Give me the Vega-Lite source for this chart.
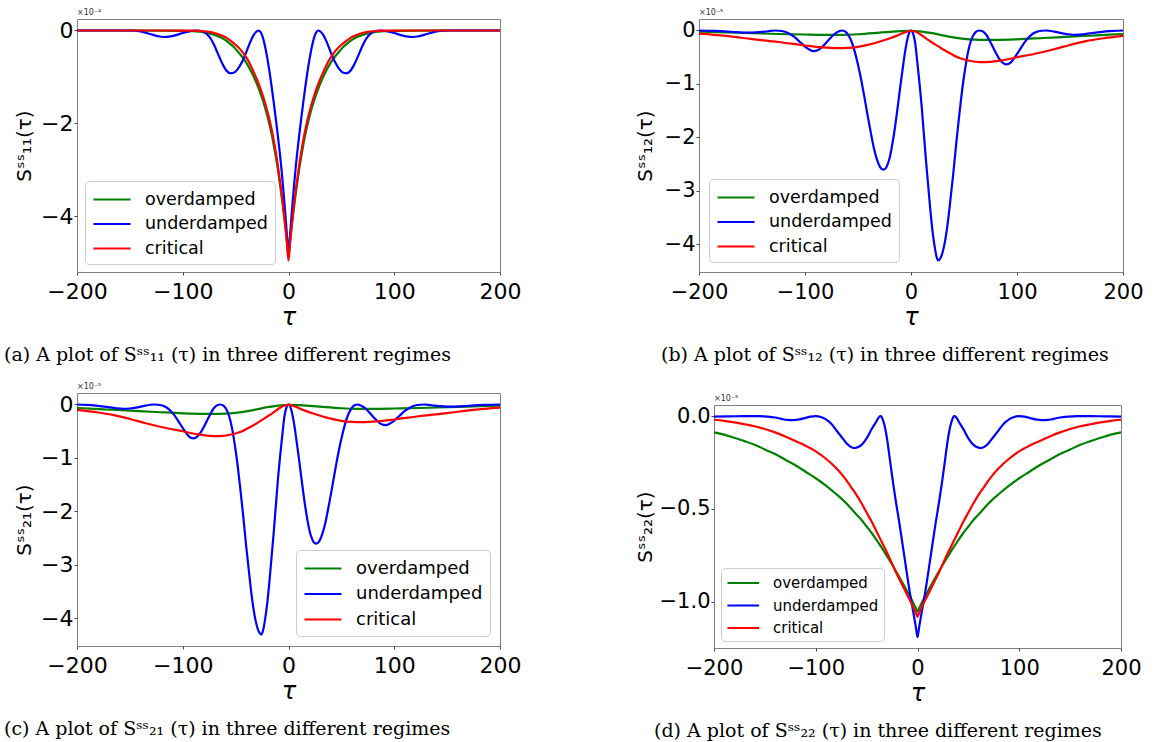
{
  "$schema": "https://vega.github.io/schema/vega-lite/v6.json",
  "background": "white",
  "padding": {"left": 3, "top": 8, "right": 5, "bottom": 2},
  "columns": 2,
  "align": "none",
  "spacing": {"row": 16, "column": 112},
  "resolve": {"scale": {"color": "independent"}, "legend": {"color": "independent"}},
  "config": {
    "font": "DejaVu Sans",
    "view": {"stroke": "#808080", "strokeWidth": 1},
    "axis": {"grid": false, "domain": false, "tickColor": "#444", "tickSize": 3, "labelFont": "DejaVu Sans", "labelFontSize": 22, "labelColor": "#000", "labelFlush": false, "labelOverlap": false, "labelBound": false, "titleFont": "DejaVu Sans", "titleFontWeight": "normal", "titleColor": "#000"},
    "axisX": {"labelPadding": 6, "titlePadding": 3, "titleFontSize": 24, "titleFontStyle": "italic"},
    "axisY": {"labelPadding": 1, "titlePadding": 6, "titleFontSize": 20},
    "legend": {"fillColor": "white", "strokeColor": "#cccccc", "cornerRadius": 4, "labelFont": "DejaVu Sans", "labelColor": "#000", "symbolType": "M-1,0H2.7", "symbolStrokeWidth": 2.2, "rowPadding": 4.5},
    "title": {"orient": "bottom", "anchor": "start", "frame": "group", "font": "DejaVu Serif", "fontSize": 19, "fontWeight": "normal", "color": "#000", "offset": 17},
    "line": {"strokeWidth": 2.2, "interpolate": "monotone"}
  },
  "datasets": {
    "a": [
      {"t":-200,"s":"overdamped","v":0},{"t":-160,"s":"overdamped","v":0},{"t":-120,"s":"overdamped","v":-0.001},{"t":-100,"s":"overdamped","v":-0.006},{"t":-90,"s":"overdamped","v":-0.015},{"t":-85,"s":"overdamped","v":-0.025},{"t":-80,"s":"overdamped","v":-0.04},{"t":-75,"s":"overdamped","v":-0.063},{"t":-70,"s":"overdamped","v":-0.095},{"t":-65,"s":"overdamped","v":-0.14},{"t":-60,"s":"overdamped","v":-0.2},{"t":-56,"s":"overdamped","v":-0.27},{"t":-52,"s":"overdamped","v":-0.35},{"t":-48,"s":"overdamped","v":-0.45},{"t":-44,"s":"overdamped","v":-0.56},{"t":-40,"s":"overdamped","v":-0.69},{"t":-36,"s":"overdamped","v":-0.85},{"t":-32,"s":"overdamped","v":-1.04},{"t":-28,"s":"overdamped","v":-1.26},{"t":-24,"s":"overdamped","v":-1.52},{"t":-20,"s":"overdamped","v":-1.84},{"t":-17,"s":"overdamped","v":-2.12},{"t":-14,"s":"overdamped","v":-2.46},{"t":-12,"s":"overdamped","v":-2.72},{"t":-10,"s":"overdamped","v":-3.0},{"t":-8,"s":"overdamped","v":-3.32},{"t":-6,"s":"overdamped","v":-3.65},{"t":-4,"s":"overdamped","v":-4.02},{"t":-2,"s":"overdamped","v":-4.42},{"t":-1,"s":"overdamped","v":-4.65},{"t":0,"s":"overdamped","v":-4.88},{"t":1,"s":"overdamped","v":-4.65},{"t":2,"s":"overdamped","v":-4.42},{"t":4,"s":"overdamped","v":-4.02},{"t":6,"s":"overdamped","v":-3.65},{"t":8,"s":"overdamped","v":-3.32},{"t":10,"s":"overdamped","v":-3.0},{"t":12,"s":"overdamped","v":-2.72},{"t":14,"s":"overdamped","v":-2.46},{"t":17,"s":"overdamped","v":-2.12},{"t":20,"s":"overdamped","v":-1.84},{"t":24,"s":"overdamped","v":-1.52},{"t":28,"s":"overdamped","v":-1.26},{"t":32,"s":"overdamped","v":-1.04},{"t":36,"s":"overdamped","v":-0.85},{"t":40,"s":"overdamped","v":-0.69},{"t":44,"s":"overdamped","v":-0.56},{"t":48,"s":"overdamped","v":-0.45},{"t":52,"s":"overdamped","v":-0.35},{"t":56,"s":"overdamped","v":-0.27},{"t":60,"s":"overdamped","v":-0.2},{"t":65,"s":"overdamped","v":-0.14},{"t":70,"s":"overdamped","v":-0.095},{"t":75,"s":"overdamped","v":-0.063},{"t":80,"s":"overdamped","v":-0.04},{"t":85,"s":"overdamped","v":-0.025},{"t":90,"s":"overdamped","v":-0.015},{"t":100,"s":"overdamped","v":-0.006},{"t":120,"s":"overdamped","v":-0.001},{"t":160,"s":"overdamped","v":0},{"t":200,"s":"overdamped","v":0},
      {"t":-200,"s":"underdamped","v":0},{"t":-175,"s":"underdamped","v":0},{"t":-155,"s":"underdamped","v":0},{"t":-146,"s":"underdamped","v":-0.004},{"t":-140,"s":"underdamped","v":-0.02},{"t":-134,"s":"underdamped","v":-0.055},{"t":-128,"s":"underdamped","v":-0.095},{"t":-122,"s":"underdamped","v":-0.13},{"t":-118,"s":"underdamped","v":-0.14},{"t":-115,"s":"underdamped","v":-0.138},{"t":-110,"s":"underdamped","v":-0.12},{"t":-105,"s":"underdamped","v":-0.09},{"t":-100,"s":"underdamped","v":-0.055},{"t":-95,"s":"underdamped","v":-0.025},{"t":-90,"s":"underdamped","v":-0.005},{"t":-86,"s":"underdamped","v":0},{"t":-82,"s":"underdamped","v":-0.012},{"t":-78,"s":"underdamped","v":-0.06},{"t":-74,"s":"underdamped","v":-0.16},{"t":-70,"s":"underdamped","v":-0.33},{"t":-66,"s":"underdamped","v":-0.54},{"t":-62,"s":"underdamped","v":-0.74},{"t":-58,"s":"underdamped","v":-0.88},{"t":-55,"s":"underdamped","v":-0.92},{"t":-52,"s":"underdamped","v":-0.91},{"t":-48,"s":"underdamped","v":-0.83},{"t":-44,"s":"underdamped","v":-0.68},{"t":-40,"s":"underdamped","v":-0.47},{"t":-36,"s":"underdamped","v":-0.24},{"t":-33,"s":"underdamped","v":-0.1},{"t":-30,"s":"underdamped","v":-0.02},{"t":-28,"s":"underdamped","v":0},{"t":-26,"s":"underdamped","v":-0.05},{"t":-24,"s":"underdamped","v":-0.17},{"t":-22,"s":"underdamped","v":-0.36},{"t":-20,"s":"underdamped","v":-0.6},{"t":-18,"s":"underdamped","v":-0.88},{"t":-16,"s":"underdamped","v":-1.2},{"t":-14,"s":"underdamped","v":-1.54},{"t":-12,"s":"underdamped","v":-1.9},{"t":-10,"s":"underdamped","v":-2.28},{"t":-9,"s":"underdamped","v":-2.48},{"t":-8,"s":"underdamped","v":-2.68},{"t":-7,"s":"underdamped","v":-2.9},{"t":-6,"s":"underdamped","v":-3.15},{"t":-5,"s":"underdamped","v":-3.4},{"t":-4,"s":"underdamped","v":-3.67},{"t":-3,"s":"underdamped","v":-3.95},{"t":-2,"s":"underdamped","v":-4.25},{"t":-1,"s":"underdamped","v":-4.55},{"t":0,"s":"underdamped","v":-4.85},{"t":1,"s":"underdamped","v":-4.55},{"t":2,"s":"underdamped","v":-4.25},{"t":3,"s":"underdamped","v":-3.95},{"t":4,"s":"underdamped","v":-3.67},{"t":5,"s":"underdamped","v":-3.4},{"t":6,"s":"underdamped","v":-3.15},{"t":7,"s":"underdamped","v":-2.9},{"t":8,"s":"underdamped","v":-2.68},{"t":9,"s":"underdamped","v":-2.48},{"t":10,"s":"underdamped","v":-2.28},{"t":12,"s":"underdamped","v":-1.9},{"t":14,"s":"underdamped","v":-1.54},{"t":16,"s":"underdamped","v":-1.2},{"t":18,"s":"underdamped","v":-0.88},{"t":20,"s":"underdamped","v":-0.6},{"t":22,"s":"underdamped","v":-0.36},{"t":24,"s":"underdamped","v":-0.17},{"t":26,"s":"underdamped","v":-0.05},{"t":28,"s":"underdamped","v":0},{"t":30,"s":"underdamped","v":-0.02},{"t":33,"s":"underdamped","v":-0.1},{"t":36,"s":"underdamped","v":-0.24},{"t":40,"s":"underdamped","v":-0.47},{"t":44,"s":"underdamped","v":-0.68},{"t":48,"s":"underdamped","v":-0.83},{"t":52,"s":"underdamped","v":-0.91},{"t":55,"s":"underdamped","v":-0.92},{"t":58,"s":"underdamped","v":-0.88},{"t":62,"s":"underdamped","v":-0.74},{"t":66,"s":"underdamped","v":-0.54},{"t":70,"s":"underdamped","v":-0.33},{"t":74,"s":"underdamped","v":-0.16},{"t":78,"s":"underdamped","v":-0.06},{"t":82,"s":"underdamped","v":-0.012},{"t":86,"s":"underdamped","v":0},{"t":90,"s":"underdamped","v":-0.005},{"t":95,"s":"underdamped","v":-0.025},{"t":100,"s":"underdamped","v":-0.055},{"t":105,"s":"underdamped","v":-0.09},{"t":110,"s":"underdamped","v":-0.12},{"t":115,"s":"underdamped","v":-0.138},{"t":118,"s":"underdamped","v":-0.14},{"t":122,"s":"underdamped","v":-0.13},{"t":128,"s":"underdamped","v":-0.095},{"t":134,"s":"underdamped","v":-0.055},{"t":140,"s":"underdamped","v":-0.02},{"t":146,"s":"underdamped","v":-0.004},{"t":155,"s":"underdamped","v":0},{"t":175,"s":"underdamped","v":0},{"t":200,"s":"underdamped","v":0},
      {"t":-200,"s":"critical","v":0},{"t":-160,"s":"critical","v":0},{"t":-120,"s":"critical","v":0},{"t":-100,"s":"critical","v":-0.001},{"t":-90,"s":"critical","v":-0.004},{"t":-85,"s":"critical","v":-0.008},{"t":-80,"s":"critical","v":-0.016},{"t":-75,"s":"critical","v":-0.03},{"t":-70,"s":"critical","v":-0.055},{"t":-65,"s":"critical","v":-0.09},{"t":-60,"s":"critical","v":-0.14},{"t":-56,"s":"critical","v":-0.2},{"t":-52,"s":"critical","v":-0.27},{"t":-48,"s":"critical","v":-0.35},{"t":-44,"s":"critical","v":-0.45},{"t":-40,"s":"critical","v":-0.58},{"t":-36,"s":"critical","v":-0.74},{"t":-32,"s":"critical","v":-0.94},{"t":-28,"s":"critical","v":-1.16},{"t":-24,"s":"critical","v":-1.42},{"t":-20,"s":"critical","v":-1.74},{"t":-17,"s":"critical","v":-2.02},{"t":-14,"s":"critical","v":-2.36},{"t":-12,"s":"critical","v":-2.62},{"t":-10,"s":"critical","v":-2.92},{"t":-8,"s":"critical","v":-3.25},{"t":-6,"s":"critical","v":-3.6},{"t":-4,"s":"critical","v":-4.0},{"t":-2,"s":"critical","v":-4.45},{"t":-1,"s":"critical","v":-4.7},{"t":0,"s":"critical","v":-4.95},{"t":1,"s":"critical","v":-4.7},{"t":2,"s":"critical","v":-4.45},{"t":4,"s":"critical","v":-4.0},{"t":6,"s":"critical","v":-3.6},{"t":8,"s":"critical","v":-3.25},{"t":10,"s":"critical","v":-2.92},{"t":12,"s":"critical","v":-2.62},{"t":14,"s":"critical","v":-2.36},{"t":17,"s":"critical","v":-2.02},{"t":20,"s":"critical","v":-1.74},{"t":24,"s":"critical","v":-1.42},{"t":28,"s":"critical","v":-1.16},{"t":32,"s":"critical","v":-0.94},{"t":36,"s":"critical","v":-0.74},{"t":40,"s":"critical","v":-0.58},{"t":44,"s":"critical","v":-0.45},{"t":48,"s":"critical","v":-0.35},{"t":52,"s":"critical","v":-0.27},{"t":56,"s":"critical","v":-0.2},{"t":60,"s":"critical","v":-0.14},{"t":65,"s":"critical","v":-0.09},{"t":70,"s":"critical","v":-0.055},{"t":75,"s":"critical","v":-0.03},{"t":80,"s":"critical","v":-0.016},{"t":85,"s":"critical","v":-0.008},{"t":90,"s":"critical","v":-0.004},{"t":100,"s":"critical","v":-0.001},{"t":120,"s":"critical","v":0},{"t":160,"s":"critical","v":0},{"t":200,"s":"critical","v":0}
    ],
    "b": [
      {"t":-200,"s":"overdamped","v":-0.02},{"t":-175,"s":"overdamped","v":-0.035},{"t":-150,"s":"overdamped","v":-0.05},{"t":-125,"s":"overdamped","v":-0.065},{"t":-100,"s":"overdamped","v":-0.075},{"t":-80,"s":"overdamped","v":-0.08},{"t":-65,"s":"overdamped","v":-0.08},{"t":-50,"s":"overdamped","v":-0.07},{"t":-35,"s":"overdamped","v":-0.05},{"t":-20,"s":"overdamped","v":-0.025},{"t":-10,"s":"overdamped","v":-0.01},{"t":0,"s":"overdamped","v":-0.005},{"t":10,"s":"overdamped","v":-0.02},{"t":20,"s":"overdamped","v":-0.05},{"t":30,"s":"overdamped","v":-0.09},{"t":40,"s":"overdamped","v":-0.13},{"t":50,"s":"overdamped","v":-0.155},{"t":60,"s":"overdamped","v":-0.17},{"t":70,"s":"overdamped","v":-0.175},{"t":80,"s":"overdamped","v":-0.175},{"t":100,"s":"overdamped","v":-0.165},{"t":125,"s":"overdamped","v":-0.14},{"t":150,"s":"overdamped","v":-0.115},{"t":175,"s":"overdamped","v":-0.09},{"t":200,"s":"overdamped","v":-0.065},
      {"t":-200,"s":"underdamped","v":0},{"t":-185,"s":"underdamped","v":-0.006},{"t":-175,"s":"underdamped","v":-0.016},{"t":-166,"s":"underdamped","v":-0.03},{"t":-158,"s":"underdamped","v":-0.038},{"t":-150,"s":"underdamped","v":-0.04},{"t":-142,"s":"underdamped","v":-0.03},{"t":-135,"s":"underdamped","v":-0.014},{"t":-128,"s":"underdamped","v":0},{"t":-122,"s":"underdamped","v":-0.01},{"t":-116,"s":"underdamped","v":-0.045},{"t":-110,"s":"underdamped","v":-0.12},{"t":-105,"s":"underdamped","v":-0.21},{"t":-100,"s":"underdamped","v":-0.3},{"t":-96,"s":"underdamped","v":-0.355},{"t":-92,"s":"underdamped","v":-0.386},{"t":-88,"s":"underdamped","v":-0.37},{"t":-84,"s":"underdamped","v":-0.31},{"t":-80,"s":"underdamped","v":-0.23},{"t":-76,"s":"underdamped","v":-0.14},{"t":-72,"s":"underdamped","v":-0.065},{"t":-68,"s":"underdamped","v":-0.015},{"t":-65.5,"s":"underdamped","v":0},{"t":-62,"s":"underdamped","v":-0.02},{"t":-59,"s":"underdamped","v":-0.09},{"t":-56,"s":"underdamped","v":-0.21},{"t":-53,"s":"underdamped","v":-0.4},{"t":-50,"s":"underdamped","v":-0.64},{"t":-47,"s":"underdamped","v":-0.92},{"t":-44,"s":"underdamped","v":-1.24},{"t":-41,"s":"underdamped","v":-1.58},{"t":-38,"s":"underdamped","v":-1.9},{"t":-35,"s":"underdamped","v":-2.2},{"t":-32,"s":"underdamped","v":-2.42},{"t":-29,"s":"underdamped","v":-2.56},{"t":-26.3,"s":"underdamped","v":-2.6},{"t":-24,"s":"underdamped","v":-2.58},{"t":-22,"s":"underdamped","v":-2.5},{"t":-20,"s":"underdamped","v":-2.37},{"t":-18,"s":"underdamped","v":-2.17},{"t":-16,"s":"underdamped","v":-1.93},{"t":-14,"s":"underdamped","v":-1.65},{"t":-12,"s":"underdamped","v":-1.35},{"t":-10,"s":"underdamped","v":-1.03},{"t":-8,"s":"underdamped","v":-0.74},{"t":-6,"s":"underdamped","v":-0.45},{"t":-4,"s":"underdamped","v":-0.22},{"t":-2,"s":"underdamped","v":-0.06},{"t":0,"s":"underdamped","v":0},{"t":2,"s":"underdamped","v":-0.06},{"t":4,"s":"underdamped","v":-0.24},{"t":6,"s":"underdamped","v":-0.6},{"t":8,"s":"underdamped","v":-0.98},{"t":10,"s":"underdamped","v":-1.4},{"t":12,"s":"underdamped","v":-1.9},{"t":14,"s":"underdamped","v":-2.4},{"t":16,"s":"underdamped","v":-2.85},{"t":18,"s":"underdamped","v":-3.3},{"t":20,"s":"underdamped","v":-3.7},{"t":22,"s":"underdamped","v":-4.0},{"t":24,"s":"underdamped","v":-4.22},{"t":25.6,"s":"underdamped","v":-4.3},{"t":28,"s":"underdamped","v":-4.25},{"t":31,"s":"underdamped","v":-4.05},{"t":34,"s":"underdamped","v":-3.7},{"t":37,"s":"underdamped","v":-3.2},{"t":40,"s":"underdamped","v":-2.65},{"t":43,"s":"underdamped","v":-2.05},{"t":46,"s":"underdamped","v":-1.5},{"t":49,"s":"underdamped","v":-1.0},{"t":52,"s":"underdamped","v":-0.6},{"t":55,"s":"underdamped","v":-0.3},{"t":58,"s":"underdamped","v":-0.12},{"t":61,"s":"underdamped","v":-0.03},{"t":64.5,"s":"underdamped","v":0},{"t":67,"s":"underdamped","v":-0.01},{"t":71,"s":"underdamped","v":-0.08},{"t":75,"s":"underdamped","v":-0.22},{"t":79,"s":"underdamped","v":-0.38},{"t":83,"s":"underdamped","v":-0.52},{"t":87,"s":"underdamped","v":-0.61},{"t":90,"s":"underdamped","v":-0.635},{"t":94,"s":"underdamped","v":-0.6},{"t":98,"s":"underdamped","v":-0.5},{"t":103,"s":"underdamped","v":-0.35},{"t":108,"s":"underdamped","v":-0.2},{"t":113,"s":"underdamped","v":-0.09},{"t":118,"s":"underdamped","v":-0.03},{"t":123,"s":"underdamped","v":-0.005},{"t":128,"s":"underdamped","v":0},{"t":135,"s":"underdamped","v":-0.02},{"t":142,"s":"underdamped","v":-0.05},{"t":150,"s":"underdamped","v":-0.075},{"t":156,"s":"underdamped","v":-0.08},{"t":163,"s":"underdamped","v":-0.07},{"t":172,"s":"underdamped","v":-0.045},{"t":182,"s":"underdamped","v":-0.02},{"t":192,"s":"underdamped","v":-0.006},{"t":200,"s":"underdamped","v":0},
      {"t":-200,"s":"critical","v":-0.06},{"t":-175,"s":"critical","v":-0.1},{"t":-150,"s":"critical","v":-0.16},{"t":-125,"s":"critical","v":-0.215},{"t":-100,"s":"critical","v":-0.28},{"t":-84,"s":"critical","v":-0.315},{"t":-70,"s":"critical","v":-0.33},{"t":-60,"s":"critical","v":-0.325},{"t":-50,"s":"critical","v":-0.305},{"t":-40,"s":"critical","v":-0.265},{"t":-30,"s":"critical","v":-0.21},{"t":-21,"s":"critical","v":-0.155},{"t":-15,"s":"critical","v":-0.11},{"t":-8,"s":"critical","v":-0.05},{"t":-3,"s":"critical","v":-0.015},{"t":0,"s":"critical","v":-0.008},{"t":3,"s":"critical","v":-0.015},{"t":8,"s":"critical","v":-0.06},{"t":15,"s":"critical","v":-0.16},{"t":22,"s":"critical","v":-0.25},{"t":30,"s":"critical","v":-0.35},{"t":38,"s":"critical","v":-0.44},{"t":45,"s":"critical","v":-0.51},{"t":55,"s":"critical","v":-0.565},{"t":65,"s":"critical","v":-0.59},{"t":75,"s":"critical","v":-0.585},{"t":85,"s":"critical","v":-0.56},{"t":100,"s":"critical","v":-0.5},{"t":117,"s":"critical","v":-0.435},{"t":135,"s":"critical","v":-0.35},{"t":150,"s":"critical","v":-0.27},{"t":165,"s":"critical","v":-0.2},{"t":180,"s":"critical","v":-0.15},{"t":200,"s":"critical","v":-0.1}
    ],
    "c": [
      {"t":-200,"s":"overdamped","v":-0.065},{"t":-175,"s":"overdamped","v":-0.09},{"t":-150,"s":"overdamped","v":-0.115},{"t":-125,"s":"overdamped","v":-0.14},{"t":-100,"s":"overdamped","v":-0.165},{"t":-80,"s":"overdamped","v":-0.175},{"t":-70,"s":"overdamped","v":-0.175},{"t":-60,"s":"overdamped","v":-0.17},{"t":-50,"s":"overdamped","v":-0.155},{"t":-40,"s":"overdamped","v":-0.13},{"t":-30,"s":"overdamped","v":-0.09},{"t":-20,"s":"overdamped","v":-0.05},{"t":-10,"s":"overdamped","v":-0.02},{"t":0,"s":"overdamped","v":-0.005},{"t":10,"s":"overdamped","v":-0.01},{"t":20,"s":"overdamped","v":-0.025},{"t":35,"s":"overdamped","v":-0.05},{"t":50,"s":"overdamped","v":-0.07},{"t":65,"s":"overdamped","v":-0.08},{"t":80,"s":"overdamped","v":-0.08},{"t":100,"s":"overdamped","v":-0.075},{"t":125,"s":"overdamped","v":-0.065},{"t":150,"s":"overdamped","v":-0.05},{"t":175,"s":"overdamped","v":-0.035},{"t":200,"s":"overdamped","v":-0.02},
      {"t":-200,"s":"underdamped","v":0},{"t":-192,"s":"underdamped","v":-0.006},{"t":-182,"s":"underdamped","v":-0.02},{"t":-172,"s":"underdamped","v":-0.045},{"t":-163,"s":"underdamped","v":-0.07},{"t":-156,"s":"underdamped","v":-0.08},{"t":-150,"s":"underdamped","v":-0.075},{"t":-142,"s":"underdamped","v":-0.05},{"t":-135,"s":"underdamped","v":-0.02},{"t":-128,"s":"underdamped","v":0},{"t":-123,"s":"underdamped","v":-0.005},{"t":-118,"s":"underdamped","v":-0.03},{"t":-113,"s":"underdamped","v":-0.09},{"t":-108,"s":"underdamped","v":-0.2},{"t":-103,"s":"underdamped","v":-0.35},{"t":-98,"s":"underdamped","v":-0.5},{"t":-94,"s":"underdamped","v":-0.6},{"t":-90,"s":"underdamped","v":-0.635},{"t":-87,"s":"underdamped","v":-0.61},{"t":-83,"s":"underdamped","v":-0.52},{"t":-79,"s":"underdamped","v":-0.38},{"t":-75,"s":"underdamped","v":-0.22},{"t":-71,"s":"underdamped","v":-0.08},{"t":-67,"s":"underdamped","v":-0.01},{"t":-64.5,"s":"underdamped","v":0},{"t":-61,"s":"underdamped","v":-0.03},{"t":-58,"s":"underdamped","v":-0.12},{"t":-55,"s":"underdamped","v":-0.3},{"t":-52,"s":"underdamped","v":-0.6},{"t":-49,"s":"underdamped","v":-1.0},{"t":-46,"s":"underdamped","v":-1.5},{"t":-43,"s":"underdamped","v":-2.05},{"t":-40,"s":"underdamped","v":-2.65},{"t":-37,"s":"underdamped","v":-3.2},{"t":-34,"s":"underdamped","v":-3.7},{"t":-31,"s":"underdamped","v":-4.05},{"t":-28,"s":"underdamped","v":-4.25},{"t":-25.6,"s":"underdamped","v":-4.3},{"t":-24,"s":"underdamped","v":-4.22},{"t":-22,"s":"underdamped","v":-4.0},{"t":-20,"s":"underdamped","v":-3.7},{"t":-18,"s":"underdamped","v":-3.3},{"t":-16,"s":"underdamped","v":-2.85},{"t":-14,"s":"underdamped","v":-2.4},{"t":-12,"s":"underdamped","v":-1.9},{"t":-10,"s":"underdamped","v":-1.4},{"t":-8,"s":"underdamped","v":-0.98},{"t":-6,"s":"underdamped","v":-0.6},{"t":-4,"s":"underdamped","v":-0.24},{"t":-2,"s":"underdamped","v":-0.06},{"t":0,"s":"underdamped","v":0},{"t":2,"s":"underdamped","v":-0.06},{"t":4,"s":"underdamped","v":-0.22},{"t":6,"s":"underdamped","v":-0.45},{"t":8,"s":"underdamped","v":-0.74},{"t":10,"s":"underdamped","v":-1.03},{"t":12,"s":"underdamped","v":-1.35},{"t":14,"s":"underdamped","v":-1.65},{"t":16,"s":"underdamped","v":-1.93},{"t":18,"s":"underdamped","v":-2.17},{"t":20,"s":"underdamped","v":-2.37},{"t":22,"s":"underdamped","v":-2.5},{"t":24,"s":"underdamped","v":-2.58},{"t":26.3,"s":"underdamped","v":-2.6},{"t":29,"s":"underdamped","v":-2.56},{"t":32,"s":"underdamped","v":-2.42},{"t":35,"s":"underdamped","v":-2.2},{"t":38,"s":"underdamped","v":-1.9},{"t":41,"s":"underdamped","v":-1.58},{"t":44,"s":"underdamped","v":-1.24},{"t":47,"s":"underdamped","v":-0.92},{"t":50,"s":"underdamped","v":-0.64},{"t":53,"s":"underdamped","v":-0.4},{"t":56,"s":"underdamped","v":-0.21},{"t":59,"s":"underdamped","v":-0.09},{"t":62,"s":"underdamped","v":-0.02},{"t":65.5,"s":"underdamped","v":0},{"t":68,"s":"underdamped","v":-0.015},{"t":72,"s":"underdamped","v":-0.065},{"t":76,"s":"underdamped","v":-0.14},{"t":80,"s":"underdamped","v":-0.23},{"t":84,"s":"underdamped","v":-0.31},{"t":88,"s":"underdamped","v":-0.37},{"t":92,"s":"underdamped","v":-0.386},{"t":96,"s":"underdamped","v":-0.355},{"t":100,"s":"underdamped","v":-0.3},{"t":105,"s":"underdamped","v":-0.21},{"t":110,"s":"underdamped","v":-0.12},{"t":116,"s":"underdamped","v":-0.045},{"t":122,"s":"underdamped","v":-0.01},{"t":128,"s":"underdamped","v":0},{"t":135,"s":"underdamped","v":-0.014},{"t":142,"s":"underdamped","v":-0.03},{"t":150,"s":"underdamped","v":-0.04},{"t":158,"s":"underdamped","v":-0.038},{"t":166,"s":"underdamped","v":-0.03},{"t":175,"s":"underdamped","v":-0.016},{"t":185,"s":"underdamped","v":-0.006},{"t":200,"s":"underdamped","v":0},
      {"t":-200,"s":"critical","v":-0.1},{"t":-180,"s":"critical","v":-0.15},{"t":-165,"s":"critical","v":-0.2},{"t":-150,"s":"critical","v":-0.27},{"t":-135,"s":"critical","v":-0.35},{"t":-117,"s":"critical","v":-0.435},{"t":-100,"s":"critical","v":-0.5},{"t":-85,"s":"critical","v":-0.56},{"t":-75,"s":"critical","v":-0.585},{"t":-65,"s":"critical","v":-0.59},{"t":-55,"s":"critical","v":-0.565},{"t":-45,"s":"critical","v":-0.51},{"t":-38,"s":"critical","v":-0.44},{"t":-30,"s":"critical","v":-0.35},{"t":-22,"s":"critical","v":-0.25},{"t":-15,"s":"critical","v":-0.16},{"t":-8,"s":"critical","v":-0.06},{"t":-3,"s":"critical","v":-0.015},{"t":0,"s":"critical","v":-0.008},{"t":3,"s":"critical","v":-0.015},{"t":8,"s":"critical","v":-0.05},{"t":15,"s":"critical","v":-0.11},{"t":21,"s":"critical","v":-0.155},{"t":30,"s":"critical","v":-0.21},{"t":40,"s":"critical","v":-0.265},{"t":50,"s":"critical","v":-0.305},{"t":60,"s":"critical","v":-0.325},{"t":70,"s":"critical","v":-0.33},{"t":84,"s":"critical","v":-0.315},{"t":100,"s":"critical","v":-0.28},{"t":125,"s":"critical","v":-0.215},{"t":150,"s":"critical","v":-0.16},{"t":175,"s":"critical","v":-0.1},{"t":200,"s":"critical","v":-0.06}
    ],
    "d": [
      {"t":-200,"s":"overdamped","v":-0.088},{"t":-190,"s":"overdamped","v":-0.1},{"t":-180,"s":"overdamped","v":-0.117},{"t":-170,"s":"overdamped","v":-0.135},{"t":-160,"s":"overdamped","v":-0.155},{"t":-150,"s":"overdamped","v":-0.18},{"t":-140,"s":"overdamped","v":-0.205},{"t":-130,"s":"overdamped","v":-0.235},{"t":-120,"s":"overdamped","v":-0.265},{"t":-110,"s":"overdamped","v":-0.3},{"t":-100,"s":"overdamped","v":-0.335},{"t":-90,"s":"overdamped","v":-0.375},{"t":-80,"s":"overdamped","v":-0.42},{"t":-70,"s":"overdamped","v":-0.47},{"t":-65,"s":"overdamped","v":-0.5},{"t":-60,"s":"overdamped","v":-0.53},{"t":-55,"s":"overdamped","v":-0.56},{"t":-50,"s":"overdamped","v":-0.595},{"t":-45,"s":"overdamped","v":-0.63},{"t":-40,"s":"overdamped","v":-0.67},{"t":-35,"s":"overdamped","v":-0.71},{"t":-30,"s":"overdamped","v":-0.755},{"t":-25,"s":"overdamped","v":-0.8},{"t":-20,"s":"overdamped","v":-0.847},{"t":-15,"s":"overdamped","v":-0.895},{"t":-10,"s":"overdamped","v":-0.945},{"t":-5,"s":"overdamped","v":-0.997},{"t":-1,"s":"overdamped","v":-1.043},{"t":0,"s":"overdamped","v":-1.054},{"t":1,"s":"overdamped","v":-1.043},{"t":5,"s":"overdamped","v":-0.997},{"t":10,"s":"overdamped","v":-0.945},{"t":15,"s":"overdamped","v":-0.895},{"t":20,"s":"overdamped","v":-0.847},{"t":25,"s":"overdamped","v":-0.8},{"t":30,"s":"overdamped","v":-0.755},{"t":35,"s":"overdamped","v":-0.71},{"t":40,"s":"overdamped","v":-0.67},{"t":45,"s":"overdamped","v":-0.63},{"t":50,"s":"overdamped","v":-0.595},{"t":55,"s":"overdamped","v":-0.56},{"t":60,"s":"overdamped","v":-0.53},{"t":65,"s":"overdamped","v":-0.5},{"t":70,"s":"overdamped","v":-0.47},{"t":80,"s":"overdamped","v":-0.42},{"t":90,"s":"overdamped","v":-0.375},{"t":100,"s":"overdamped","v":-0.335},{"t":110,"s":"overdamped","v":-0.3},{"t":120,"s":"overdamped","v":-0.265},{"t":130,"s":"overdamped","v":-0.235},{"t":140,"s":"overdamped","v":-0.205},{"t":150,"s":"overdamped","v":-0.18},{"t":160,"s":"overdamped","v":-0.155},{"t":170,"s":"overdamped","v":-0.135},{"t":180,"s":"overdamped","v":-0.117},{"t":190,"s":"overdamped","v":-0.1},{"t":200,"s":"overdamped","v":-0.088},
      {"t":-200,"s":"underdamped","v":-0.003},{"t":-185,"s":"underdamped","v":-0.002},{"t":-170,"s":"underdamped","v":0},{"t":-157,"s":"underdamped","v":0},{"t":-148,"s":"underdamped","v":-0.003},{"t":-140,"s":"underdamped","v":-0.008},{"t":-134,"s":"underdamped","v":-0.015},{"t":-128,"s":"underdamped","v":-0.021},{"t":-122,"s":"underdamped","v":-0.022},{"t":-116,"s":"underdamped","v":-0.018},{"t":-110,"s":"underdamped","v":-0.01},{"t":-105,"s":"underdamped","v":-0.003},{"t":-100,"s":"underdamped","v":0},{"t":-95,"s":"underdamped","v":-0.005},{"t":-90,"s":"underdamped","v":-0.018},{"t":-85,"s":"underdamped","v":-0.04},{"t":-80,"s":"underdamped","v":-0.075},{"t":-75,"s":"underdamped","v":-0.11},{"t":-70,"s":"underdamped","v":-0.145},{"t":-66,"s":"underdamped","v":-0.165},{"t":-62,"s":"underdamped","v":-0.173},{"t":-60,"s":"underdamped","v":-0.17},{"t":-55,"s":"underdamped","v":-0.155},{"t":-50,"s":"underdamped","v":-0.12},{"t":-45,"s":"underdamped","v":-0.07},{"t":-40,"s":"underdamped","v":-0.025},{"t":-38,"s":"underdamped","v":-0.006},{"t":-36,"s":"underdamped","v":0},{"t":-34,"s":"underdamped","v":-0.02},{"t":-32,"s":"underdamped","v":-0.06},{"t":-30,"s":"underdamped","v":-0.12},{"t":-27,"s":"underdamped","v":-0.24},{"t":-24,"s":"underdamped","v":-0.36},{"t":-21,"s":"underdamped","v":-0.47},{"t":-18,"s":"underdamped","v":-0.57},{"t":-15,"s":"underdamped","v":-0.68},{"t":-12,"s":"underdamped","v":-0.79},{"t":-9,"s":"underdamped","v":-0.9},{"t":-6,"s":"underdamped","v":-1.0},{"t":-4,"s":"underdamped","v":-1.06},{"t":-2,"s":"underdamped","v":-1.125},{"t":-1,"s":"underdamped","v":-1.16},{"t":0,"s":"underdamped","v":-1.19},{"t":1,"s":"underdamped","v":-1.16},{"t":2,"s":"underdamped","v":-1.125},{"t":4,"s":"underdamped","v":-1.06},{"t":6,"s":"underdamped","v":-1.0},{"t":9,"s":"underdamped","v":-0.9},{"t":12,"s":"underdamped","v":-0.79},{"t":15,"s":"underdamped","v":-0.68},{"t":18,"s":"underdamped","v":-0.57},{"t":21,"s":"underdamped","v":-0.47},{"t":24,"s":"underdamped","v":-0.36},{"t":27,"s":"underdamped","v":-0.24},{"t":30,"s":"underdamped","v":-0.12},{"t":32,"s":"underdamped","v":-0.06},{"t":34,"s":"underdamped","v":-0.02},{"t":36,"s":"underdamped","v":0},{"t":38,"s":"underdamped","v":-0.006},{"t":40,"s":"underdamped","v":-0.025},{"t":45,"s":"underdamped","v":-0.07},{"t":50,"s":"underdamped","v":-0.12},{"t":55,"s":"underdamped","v":-0.155},{"t":60,"s":"underdamped","v":-0.17},{"t":62,"s":"underdamped","v":-0.173},{"t":66,"s":"underdamped","v":-0.165},{"t":70,"s":"underdamped","v":-0.145},{"t":75,"s":"underdamped","v":-0.11},{"t":80,"s":"underdamped","v":-0.075},{"t":85,"s":"underdamped","v":-0.04},{"t":90,"s":"underdamped","v":-0.018},{"t":95,"s":"underdamped","v":-0.005},{"t":100,"s":"underdamped","v":0},{"t":105,"s":"underdamped","v":-0.003},{"t":110,"s":"underdamped","v":-0.01},{"t":116,"s":"underdamped","v":-0.018},{"t":122,"s":"underdamped","v":-0.022},{"t":128,"s":"underdamped","v":-0.021},{"t":134,"s":"underdamped","v":-0.015},{"t":140,"s":"underdamped","v":-0.008},{"t":148,"s":"underdamped","v":-0.003},{"t":157,"s":"underdamped","v":0},{"t":170,"s":"underdamped","v":0},{"t":185,"s":"underdamped","v":-0.002},{"t":200,"s":"underdamped","v":-0.003},
      {"t":-200,"s":"critical","v":-0.02},{"t":-190,"s":"critical","v":-0.026},{"t":-180,"s":"critical","v":-0.034},{"t":-170,"s":"critical","v":-0.044},{"t":-160,"s":"critical","v":-0.055},{"t":-150,"s":"critical","v":-0.07},{"t":-140,"s":"critical","v":-0.088},{"t":-130,"s":"critical","v":-0.11},{"t":-120,"s":"critical","v":-0.135},{"t":-110,"s":"critical","v":-0.16},{"t":-100,"s":"critical","v":-0.19},{"t":-90,"s":"critical","v":-0.23},{"t":-80,"s":"critical","v":-0.28},{"t":-70,"s":"critical","v":-0.345},{"t":-65,"s":"critical","v":-0.385},{"t":-60,"s":"critical","v":-0.425},{"t":-55,"s":"critical","v":-0.47},{"t":-50,"s":"critical","v":-0.52},{"t":-45,"s":"critical","v":-0.57},{"t":-40,"s":"critical","v":-0.625},{"t":-35,"s":"critical","v":-0.68},{"t":-30,"s":"critical","v":-0.735},{"t":-25,"s":"critical","v":-0.795},{"t":-20,"s":"critical","v":-0.855},{"t":-15,"s":"critical","v":-0.91},{"t":-10,"s":"critical","v":-0.965},{"t":-5,"s":"critical","v":-1.02},{"t":-1,"s":"critical","v":-1.069},{"t":0,"s":"critical","v":-1.08},{"t":1,"s":"critical","v":-1.069},{"t":5,"s":"critical","v":-1.02},{"t":10,"s":"critical","v":-0.965},{"t":15,"s":"critical","v":-0.91},{"t":20,"s":"critical","v":-0.855},{"t":25,"s":"critical","v":-0.795},{"t":30,"s":"critical","v":-0.735},{"t":35,"s":"critical","v":-0.68},{"t":40,"s":"critical","v":-0.625},{"t":45,"s":"critical","v":-0.57},{"t":50,"s":"critical","v":-0.52},{"t":55,"s":"critical","v":-0.47},{"t":60,"s":"critical","v":-0.425},{"t":65,"s":"critical","v":-0.385},{"t":70,"s":"critical","v":-0.345},{"t":80,"s":"critical","v":-0.28},{"t":90,"s":"critical","v":-0.23},{"t":100,"s":"critical","v":-0.19},{"t":110,"s":"critical","v":-0.16},{"t":120,"s":"critical","v":-0.135},{"t":130,"s":"critical","v":-0.11},{"t":140,"s":"critical","v":-0.088},{"t":150,"s":"critical","v":-0.07},{"t":160,"s":"critical","v":-0.055},{"t":170,"s":"critical","v":-0.044},{"t":180,"s":"critical","v":-0.034},{"t":190,"s":"critical","v":-0.026},{"t":200,"s":"critical","v":-0.02}
    ]
  },
  "concat": [
    {
      "width": 423, "height": 253,
      "title": {"text": "(a) A plot of Sˢˢ₁₁ (τ) in three different regimes", "dx": -73},
      "encoding": {
        "x": {"field": "t", "type": "quantitative", "scale": {"domain": [-200, 200], "nice": false, "zero": false}, "axis": {"values": [-200, -100, 0, 100, 200], "title": "τ"}},
        "y": {"field": "v", "type": "quantitative", "scale": {"domain": [-5.1975, 0.2475], "nice": false, "zero": false}, "axis": {"values": [-4, -2, 0], "title": "Sˢˢ₁₁(τ)"}},
        "color": {"field": "s", "type": "nominal", "scale": {"domain": ["overdamped", "underdamped", "critical"], "range": ["#008000", "#0000ff", "#ff0000"]}, "legend": {"title": null, "orient": "bottom-left", "offset": 8, "padding": 7, "labelFontSize": 17.5, "symbolSize": 400, "labelOffset": 30}}
      },
      "layer": [
        {"data": {"name": "a"}, "transform": [{"filter": "datum.s == 'overdamped'"}], "mark": "line"},
        {"data": {"name": "a"}, "transform": [{"filter": "datum.s == 'underdamped'"}], "mark": "line"},
        {"data": {"name": "a"}, "transform": [{"filter": "datum.s == 'critical'"}], "mark": "line"},
        {"data": {"name": "a"}, "transform": [{"filter": "datum.s == 'critical' && datum.t == -200"}], "mark": {"type": "text", "align": "left", "baseline": "bottom", "fontSize": 8, "dy": -2}, "encoding": {"x": {"field": "t", "type": "quantitative"}, "y": {"datum": 0.2475, "type": "quantitative"}, "text": {"value": "×10⁻⁴"}, "color": {"value": "#333333"}}}
      ]
    },
    {
      "width": 424, "height": 253,
      "title": {"text": "(b) A plot of Sˢˢ₁₂ (τ) in three different regimes", "dx": -38},
      "encoding": {
        "x": {"field": "t", "type": "quantitative", "scale": {"domain": [-200, 200], "nice": false, "zero": false}, "axis": {"values": [-200, -100, 0, 100, 200], "title": "τ", "labelFontSize": 21}},
        "y": {"field": "v", "type": "quantitative", "scale": {"domain": [-4.515, 0.215], "nice": false, "zero": false}, "axis": {"values": [-4, -3, -2, -1, 0], "title": "Sˢˢ₁₂(τ)", "labelFontSize": 21, "titlePadding": 9}},
        "color": {"field": "s", "type": "nominal", "scale": {"domain": ["overdamped", "underdamped", "critical"], "range": ["#008000", "#0000ff", "#ff0000"]}, "legend": {"title": null, "orient": "bottom-left", "offset": 10, "padding": 7, "labelFontSize": 17.5, "symbolSize": 400, "labelOffset": 30}}
      },
      "layer": [
        {"data": {"name": "b"}, "transform": [{"filter": "datum.s == 'overdamped'"}], "mark": "line"},
        {"data": {"name": "b"}, "transform": [{"filter": "datum.s == 'underdamped'"}], "mark": "line"},
        {"data": {"name": "b"}, "transform": [{"filter": "datum.s == 'critical'"}], "mark": "line"},
        {"data": {"name": "b"}, "transform": [{"filter": "datum.s == 'critical' && datum.t == -200"}], "mark": {"type": "text", "align": "left", "baseline": "bottom", "fontSize": 8, "dy": -2}, "encoding": {"x": {"field": "t", "type": "quantitative"}, "y": {"datum": 0.215, "type": "quantitative"}, "text": {"value": "×10⁻⁵"}, "color": {"value": "#333333"}}}
      ]
    },
    {
      "width": 423, "height": 253,
      "title": {"text": "(c) A plot of Sˢˢ₂₁ (τ) in three different regimes", "dx": -73},
      "encoding": {
        "x": {"field": "t", "type": "quantitative", "scale": {"domain": [-200, 200], "nice": false, "zero": false}, "axis": {"values": [-200, -100, 0, 100, 200], "title": "τ"}},
        "y": {"field": "v", "type": "quantitative", "scale": {"domain": [-4.515, 0.215], "nice": false, "zero": false}, "axis": {"values": [-4, -3, -2, -1, 0], "title": "Sˢˢ₂₁(τ)"}},
        "color": {"field": "s", "type": "nominal", "scale": {"domain": ["overdamped", "underdamped", "critical"], "range": ["#008000", "#0000ff", "#ff0000"]}, "legend": {"title": null, "orient": "bottom-right", "offset": 10, "padding": 7, "labelFontSize": 18, "symbolSize": 400, "labelOffset": 30}}
      },
      "layer": [
        {"data": {"name": "c"}, "transform": [{"filter": "datum.s == 'overdamped'"}], "mark": "line"},
        {"data": {"name": "c"}, "transform": [{"filter": "datum.s == 'underdamped'"}], "mark": "line"},
        {"data": {"name": "c"}, "transform": [{"filter": "datum.s == 'critical'"}], "mark": "line"},
        {"data": {"name": "c"}, "transform": [{"filter": "datum.s == 'critical' && datum.t == -200"}], "mark": {"type": "text", "align": "left", "baseline": "bottom", "fontSize": 8, "dy": -2}, "encoding": {"x": {"field": "t", "type": "quantitative"}, "y": {"datum": 0.215, "type": "quantitative"}, "text": {"value": "×10⁻⁵"}, "color": {"value": "#333333"}}}
      ]
    },
    {
      "width": 407, "height": 243,
      "title": {"text": "(d) A plot of Sˢˢ₂₂ (τ) in three different regimes", "dx": -60},
      "encoding": {
        "x": {"field": "t", "type": "quantitative", "scale": {"domain": [-200, 200], "nice": false, "zero": false}, "axis": {"values": [-200, -100, 0, 100, 200], "title": "τ", "labelFontSize": 21}},
        "y": {"field": "v", "type": "quantitative", "scale": {"domain": [-1.2495, 0.0595], "nice": false, "zero": false}, "axis": {"values": [-1, -0.5, 0], "format": ".1f", "title": "Sˢˢ₂₂(τ)", "labelFontSize": 21, "titlePadding": 4}},
        "color": {"field": "s", "type": "nominal", "scale": {"domain": ["overdamped", "underdamped", "critical"], "range": ["#008000", "#0000ff", "#ff0000"]}, "legend": {"title": null, "orient": "bottom-left", "offset": 7, "padding": 5, "labelFontSize": 15, "symbolSize": 294, "labelOffset": 27}}
      },
      "layer": [
        {"data": {"name": "d"}, "transform": [{"filter": "datum.s == 'overdamped'"}], "mark": "line"},
        {"data": {"name": "d"}, "transform": [{"filter": "datum.s == 'underdamped'"}], "mark": "line"},
        {"data": {"name": "d"}, "transform": [{"filter": "datum.s == 'critical'"}], "mark": "line"},
        {"data": {"name": "d"}, "transform": [{"filter": "datum.s == 'critical' && datum.t == -200"}], "mark": {"type": "text", "align": "left", "baseline": "bottom", "fontSize": 8, "dy": -2}, "encoding": {"x": {"field": "t", "type": "quantitative"}, "y": {"datum": 0.0595, "type": "quantitative"}, "text": {"value": "×10⁻⁵"}, "color": {"value": "#333333"}}},
        {"data": {"name": "d"}, "transform": [{"filter": "datum.s == 'critical' && datum.t == -200"}], "mark": {"type": "text", "align": "left", "baseline": "bottom", "fontSize": 8, "dy": -14}, "encoding": {"x": {"field": "t", "type": "quantitative"}, "y": {"datum": 0.0595, "type": "quantitative"}, "text": {"value": " "}, "color": {"value": "#ffffff"}}}
      ]
    }
  ]
}
